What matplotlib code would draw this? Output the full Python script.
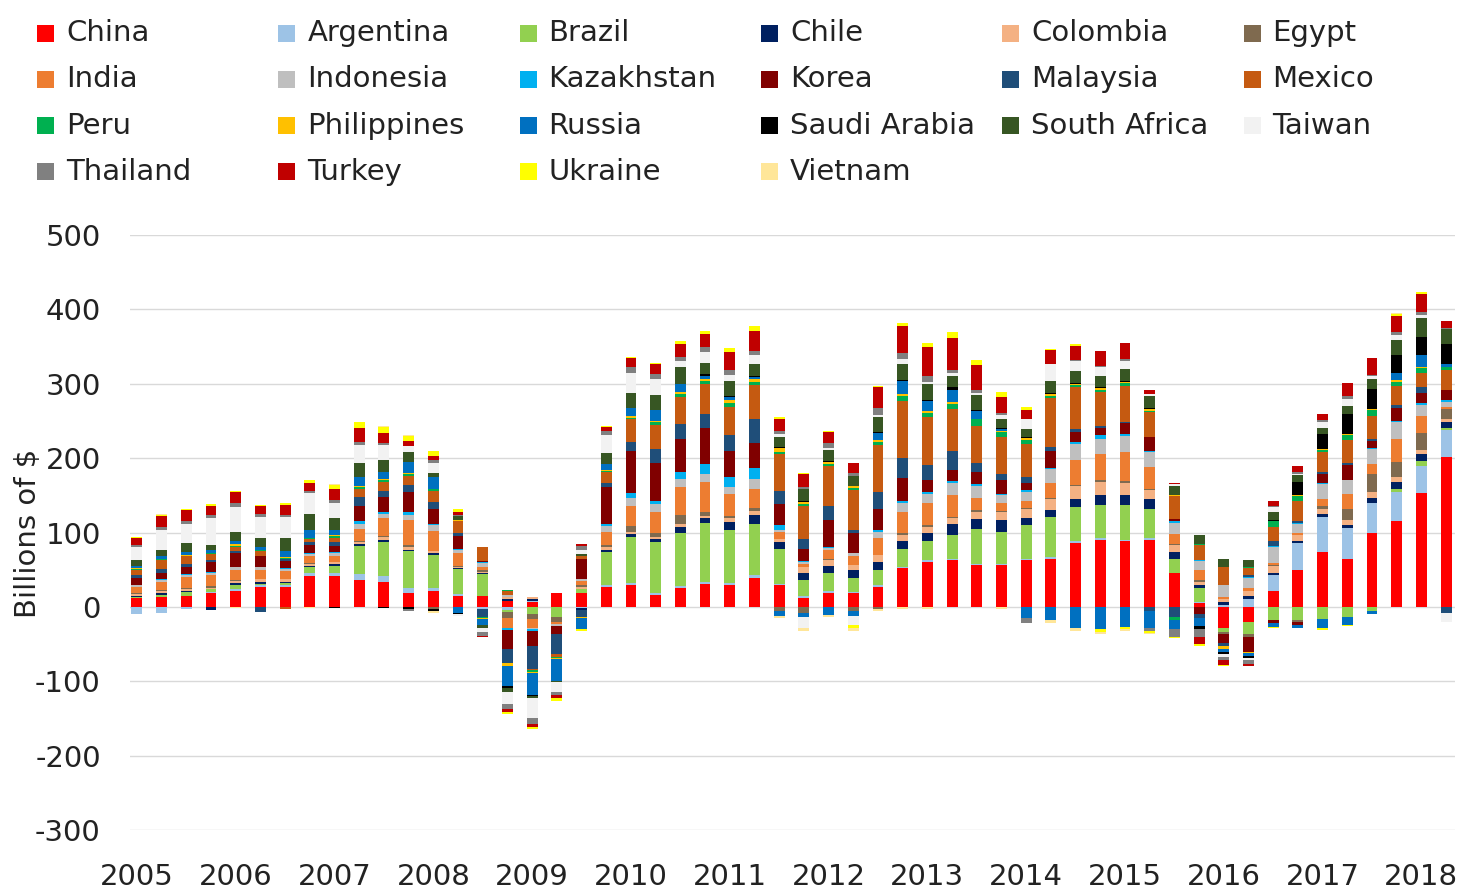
import numpy as np
import matplotlib
matplotlib.use("Agg")
import matplotlib.pyplot as plt
from matplotlib.patches import Rectangle

plt.rcParams['font.family'] = ['DejaVu Sans']
plt.rcParams['axes.unicode_minus'] = False

# quarters 2005Q1 .. 2018Q2
years = [str(y) for y in range(2005, 2019)]

countries = ['China', 'Argentina', 'Brazil', 'Chile', 'Colombia', 'Egypt',
             'India', 'Indonesia', 'Kazakhstan', 'Korea', 'Malaysia', 'Mexico',
             'Peru', 'Philippines', 'Russia', 'Saudi Arabia', 'South Africa',
             'Taiwan', 'Thailand', 'Turkey', 'Ukraine', 'Vietnam']

colors = ['#FF0000', '#9DC3E6', '#92D050', '#002060', '#F4B183', '#7F6A4F',
          '#ED7D31', '#BFBFBF', '#00B0F0', '#800000', '#1F4E79', '#C55A11',
          '#00B050', '#FFC000', '#0070C0', '#000000', '#375623', '#F2F2F2',
          '#808080', '#C00000', '#FFFF00', '#FFE699']

# billions of $, one value per quarter
china = [12, 13, 15, 19, 21, 27, 27, 41, 41, 36, 34, 19, 21, 15, 14, 8, 7, 18, 18, 27,
         30, 16, 25, 31, 30, 39, 29, 12, 19, 18, 27, 52, 61, 63, 56, 56, 63, 65, 86, 90,
         88, 90, 45, 5, -29, -20, 21, 50, 74, 64, 99, 115, 153, 202]
argentina = [-10, -8, -3, 1, 3, 2, 2, 4, 4, 8, 8, 6, 4, 2, -3, -4, 1, 0, -2, 2,
             2, 2, 3, 2, 2, 4, 2, 2, 2, 2, 2, 2, 2, 2, 2, 2, 2, 2, 2, 2,
             2, 2, 1, 2, 2, 11, 22, 36, 47, 42, 40, 40, 37, 36]
brazil = [1, 3, 5, 4, 6, 2, 3, 8, 10, 38, 45, 50, 45, 34, 30, -3, -9, -13, 6, 45,
          62, 69, 72, 80, 72, 68, 47, 22, 25, 19, 20, 24, 25, 32, 47, 43, 45, 54, 46, 45,
          47, 40, 19, 18, -5, -16, -17, -17, -16, -14, -5, 3, 6, 2]
chile = [1, 2, 2, -4, 2, 3, 2, 2, 2, 2, 3, 2, 2, 1, 1, 2, 3, 0, -2, 3,
         4, 4, 7, 6, 10, 13, 9, 10, 9, 11, 12, 11, 12, 15, 13, 16, 10, 9, 11, 13,
         13, 13, 9, 4, 4, 3, 2, 2, 4, 4, 7, 10, 9, 9]
colombia = [3, 3, 2, 2, 3, 3, 3, 3, 3, 3, 4, 4, 3, 2, 2, 3, 2, 1, 3, 4,
            3, 3, 5, 3, 5, 5, 4, 7, 8, 6, 9, 8, 8, 7, 10, 10, 11, 15, 17, 18,
            17, 12, 9, 5, 4, 8, 10, 9, 7, 7, 8, 6, 6, 4]
egypt = [1, 2, 2, 2, 1, 1, 1, 1, 1, 2, 1, 2, -3, 1, 3, -8, -7, -8, 2, 2,
         8, 6, 11, 6, 3, 4, -5, -8, 2, -5, -3, 2, 2, 2, 2, 2, 2, 2, 2, 2,
         2, 2, 1, 2, -2, -4, 1, -4, 4, 15, 25, 21, 23, 13]
india = [9, 10, 14, 15, 13, 12, 10, 9, 8, 16, 24, 34, 27, 17, 4, -13, -12, -2, 6, 18,
         27, 27, 38, 40, 30, 26, 10, 4, 11, 13, 22, 29, 29, 29, 17, 11, 9, 20, 33, 36,
         39, 29, 14, 13, 3, 4, 3, 2, 9, 20, 13, 31, 22, 3]
indonesia = [2, 3, 3, 3, 4, 3, 3, 3, 3, 6, 6, 7, 8, 5, 5, 3, -2, -3, 2, 8,
             11, 11, 11, 11, 9, 13, 3, 3, 3, 3, 9, 11, 13, 16, 16, 10, 13, 18, 22, 20,
             22, 20, 15, 13, 17, 13, 22, 13, 20, 18, 20, 22, 16, 7]
kazakhstan = [0, 1, 1, 1, 1, 1, 1, 2, 2, 5, 3, 3, 2, 1, 1, -3, -3, 0, 1, 2,
              6, 4, 9, 13, 13, 15, 6, 2, 2, 1, 2, 3, 2, 3, 2, 2, 2, 2, 3, 5,
              3, 2, 3, 1, -1, 1, 1, 1, 1, 1, 2, 2, 2, 2]
korea = [10, 8, 10, 13, 18, 15, 10, 10, 8, 20, 20, 27, 20, 17, 2, -25, -20, -11, 27, 50,
         56, 52, 45, 48, 36, 34, 28, 16, 36, 27, 29, 31, 16, 15, 16, 18, 10, 23, 13, 9,
         14, 18, 2, -9, -12, -20, -5, -4, 13, 20, 9, 17, 13, 13]
malaysia = [4, 6, 4, 3, 3, -7, 3, 4, 5, 12, 8, 10, 9, 5, -10, -20, -30, -27, -10, 6,
            13, 18, 20, 20, 21, 31, 18, 13, 18, 3, 22, 27, 21, 25, 13, 9, 7, 5, 4, 3,
            2, -6, -14, -6, -3, 3, 6, 3, 2, 2, 3, 4, 9, -8]
mexico = [7, 12, 10, 8, 6, 6, -3, 4, 6, 10, 12, 12, 15, 15, 18, 5, -2, -3, 4, 15,
          30, 32, 36, 40, 38, 46, 50, 45, 54, 54, 63, 77, 64, 57, 49, 49, 45, 66, 56, 46,
          48, 34, 31, 20, 24, 9, 20, 27, 27, 31, 30, 26, 18, 27]
peru = [1, 1, 1, 1, 1, 1, 1, 1, 2, 3, 2, 2, 2, 1, -2, 2, -2, -2, 0, 1,
        2, 4, 4, 4, 5, 4, 2, 2, 3, 3, 5, 6, 6, 7, 9, 7, 6, 3, 3, 3,
        4, 2, -3, 1, -1, 1, 7, 6, 3, 7, 9, 6, 7, 4]
philippines = [1, 1, 1, 1, 2, 1, 1, 1, 2, 2, 2, 2, 1, 1, -1, -3, -2, -1, -1, 1,
               2, 2, 3, 3, 4, 5, 6, 3, 3, 2, 2, 3, 3, 3, 1, 2, 2, 2, 2, 2,
               2, 2, 1, 1, -3, -2, 1, 1, 1, 1, 1, 2, 2, 1]
russia = [3, 4, 4, 3, 4, 3, 8, 10, 7, 12, 10, 15, 15, -8, -8, -28, -29, -29, -15, 8,
          11, 15, 10, 3, 4, 2, -7, -6, -11, -7, 10, 18, 13, 16, 11, 2, -15, -18, -29, -30,
          -27, -22, -13, -11, -4, -4, -5, -3, -13, -10, -5, 9, 15, 4]
saudi = [0, 0, 0, 0, 0, 0, 0, 0, -2, 0, -2, -3, -2, -2, 0, -2, -2, 0, 0, 0,
         0, 0, 0, 3, 2, 1, 1, 1, 1, 1, 1, 1, 1, 3, 1, 1, 1, 1, 1, 1,
         1, 1, 1, -4, -4, -3, 1, 18, 20, 27, 27, 25, 25, 26]
south_africa = [8, 8, 12, 7, 13, 13, 17, 22, 16, 18, 15, 13, 6, 5, -4, -6, -3, -2, 2, 15,
                20, 20, 23, 15, 20, 16, 13, 16, 15, 13, 20, 22, 22, 15, 20, 13, 11, 17, 16, 16,
                16, 16, 12, 11, 11, 10, 11, 9, 9, 11, 13, 20, 26, 20]
taiwan = [18, 26, 25, 36, 33, 28, 29, 28, 20, 25, 20, 8, 14, -2, -6, -16, -27, -14, 6, 24,
          28, 22, 8, 15, 8, 12, 5, -15, 2, -13, 3, 6, 3, 5, 3, 5, 14, 22, 13, 11,
          11, 3, 2, 1, -3, -2, 6, 2, 8, 10, 4, 6, 3, -13]
thailand = [2, 4, 4, 4, 6, 4, 3, 3, 4, 4, 4, -3, 4, 2, -5, -6, -7, -3, 5, 6,
            8, 6, 6, 6, 6, 6, 4, 3, 7, 4, 9, 8, 7, 4, 3, 3, -7, 1, 2, 2,
            2, -4, -10, -11, -4, -6, 2, 2, 2, 3, 2, 4, 5, 2]
turkey = [10, 15, 15, 13, 14, 10, 13, 11, 14, 18, 13, 7, 5, 3, -1, -5, -5, -5, 3, 5,
          12, 14, 18, 18, 25, 27, 16, 18, 15, 13, 29, 37, 40, 43, 34, 21, 12, 18, 19, 20,
          22, 6, 1, -9, -7, -2, 6, 9, 9, 18, 22, 22, 24, 9]
ukraine = [1, 2, 2, 2, 2, 2, 2, 3, 6, 8, 8, 7, 6, 4, 0, -2, -2, -3, -3, 1,
           1, 1, 4, 4, 5, 6, 2, 1, 1, -3, 1, 4, 5, 8, 7, 7, 4, 2, 3, -4,
           -3, -3, -2, -2, -1, -1, -1, -1, -2, -2, 1, 3, 2, 1]
vietnam = [0, 1, 0, 0, -2, 0, 0, -1, 1, 1, 1, 1, -3, 0, 0, 0, 0, 0, 0, 0,
           0, 0, 0, 0, 0, 0, -3, -4, -2, -4, -2, -3, -3, 0, 0, -3, 0, -4, -3, -3,
           -3, -2, 0, 0, 0, 0, 0, 0, 0, 0, 0, 1, 1, 0]

series = [china, argentina, brazil, chile, colombia, egypt, india, indonesia,
          kazakhstan, korea, malaysia, mexico, peru, philippines, russia, saudi,
          south_africa, taiwan, thailand, turkey, ukraine, vietnam]

fig = plt.figure(figsize=(14.63, 8.89), dpi=100)
ax = fig.add_axes([130 / 1463, 1 - 830 / 889, 1325 / 1463, 595 / 889])

x = np.arange(len(china))
pos_base = np.zeros(len(x))
neg_base = np.zeros(len(x))
for vals, col in zip(series, colors):
    v = np.array(vals, dtype=float)
    p = np.where(v > 0, v, 0)
    n = np.where(v < 0, v, 0)
    ax.bar(x, p, bottom=pos_base, width=0.44, color=col, linewidth=0, zorder=3)
    ax.bar(x, n, bottom=neg_base, width=0.44, color=col, linewidth=0, zorder=3)
    pos_base += p
    neg_base += n

ax.set_ylim(-300, 500)
ax.set_xlim(-0.28, 53.36)
ax.set_yticks(range(-300, 501, 100))
ax.set_xticks(np.arange(0, len(x), 4))
ax.set_xticklabels(years)
ax.grid(axis='y', color='#d9d9d9', linewidth=1, zorder=0)
for s in ax.spines.values():
    s.set_visible(False)
ax.tick_params(axis='both', length=0, labelsize=21, colors='#222222')
ax.tick_params(axis='y', pad=21)
ax.tick_params(axis='x', pad=24)

fig.text(28 / 1463, 1 - 533 / 889, 'Billions of $', rotation=90,
         ha='center', va='center', fontsize=21, color='#222222')

# legend laid out as a 6-column grid, row by row
for i, (name, col) in enumerate(zip(countries, colors)):
    r, c = divmod(i, 6)
    x0 = 37 + c * 241.3
    yc = 33 + r * 46.3
    fig.patches.append(Rectangle((x0 / 1463, 1 - (yc + 8.5) / 889), 17 / 1463, 17 / 889,
                                 transform=fig.transFigure, facecolor=col,
                                 edgecolor='none'))
    fig.text((x0 + 29) / 1463, 1 - yc / 889, name, ha='left', va='center',
             fontsize=21, color='#222222')

fig.savefig('out.png', dpi=100, facecolor='white')
